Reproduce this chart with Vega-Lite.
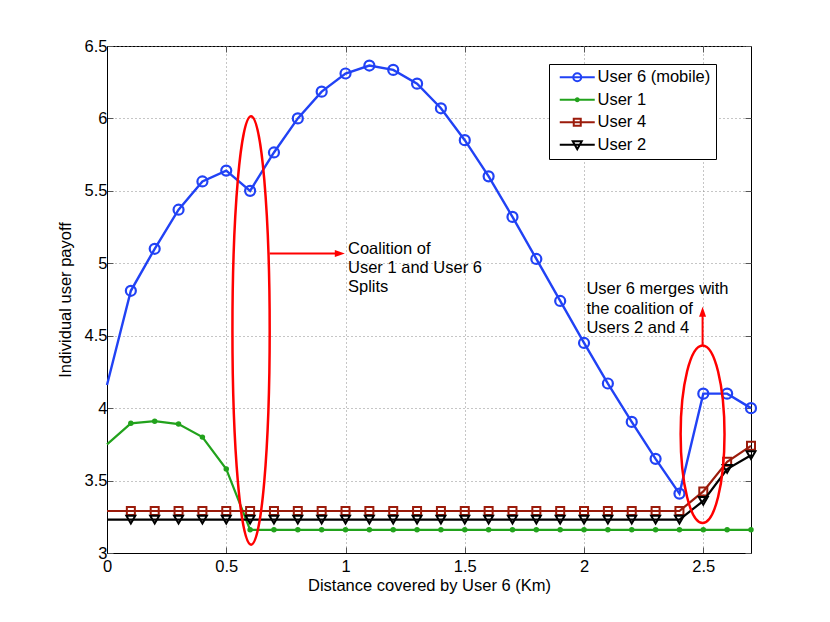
{
  "$schema": "https://vega.github.io/schema/vega-lite/v6.json",
  "width": 644,
  "height": 507,
  "autosize": "none",
  "padding": {"left": 107, "top": 46, "right": 79, "bottom": 69},
  "background": "white",
  "config": {
    "font": "Liberation Sans",
    "view": {"stroke": "black", "strokeWidth": 1}
  },
  "datasets": {
    "payoff": [
      {"x": 0.0, "series": "User 6 (mobile)", "y": 4.16},
      {"x": 0.1, "series": "User 6 (mobile)", "y": 4.81},
      {"x": 0.2, "series": "User 6 (mobile)", "y": 5.10},
      {"x": 0.3, "series": "User 6 (mobile)", "y": 5.37},
      {"x": 0.4, "series": "User 6 (mobile)", "y": 5.565},
      {"x": 0.5, "series": "User 6 (mobile)", "y": 5.64},
      {"x": 0.6, "series": "User 6 (mobile)", "y": 5.50},
      {"x": 0.7, "series": "User 6 (mobile)", "y": 5.765},
      {"x": 0.8, "series": "User 6 (mobile)", "y": 6.00},
      {"x": 0.9, "series": "User 6 (mobile)", "y": 6.185},
      {"x": 1.0, "series": "User 6 (mobile)", "y": 6.31},
      {"x": 1.1, "series": "User 6 (mobile)", "y": 6.365},
      {"x": 1.2, "series": "User 6 (mobile)", "y": 6.335},
      {"x": 1.3, "series": "User 6 (mobile)", "y": 6.24},
      {"x": 1.4, "series": "User 6 (mobile)", "y": 6.07},
      {"x": 1.5, "series": "User 6 (mobile)", "y": 5.85},
      {"x": 1.6, "series": "User 6 (mobile)", "y": 5.60},
      {"x": 1.7, "series": "User 6 (mobile)", "y": 5.32},
      {"x": 1.8, "series": "User 6 (mobile)", "y": 5.03},
      {"x": 1.9, "series": "User 6 (mobile)", "y": 4.74},
      {"x": 2.0, "series": "User 6 (mobile)", "y": 4.45},
      {"x": 2.1, "series": "User 6 (mobile)", "y": 4.17},
      {"x": 2.2, "series": "User 6 (mobile)", "y": 3.905},
      {"x": 2.3, "series": "User 6 (mobile)", "y": 3.65},
      {"x": 2.4, "series": "User 6 (mobile)", "y": 3.41},
      {"x": 2.5, "series": "User 6 (mobile)", "y": 4.10},
      {"x": 2.6, "series": "User 6 (mobile)", "y": 4.10},
      {"x": 2.7, "series": "User 6 (mobile)", "y": 4.00},
      {"x": 0.0, "series": "User 1", "y": 3.75},
      {"x": 0.1, "series": "User 1", "y": 3.895},
      {"x": 0.2, "series": "User 1", "y": 3.91},
      {"x": 0.3, "series": "User 1", "y": 3.89},
      {"x": 0.4, "series": "User 1", "y": 3.80},
      {"x": 0.5, "series": "User 1", "y": 3.58},
      {"x": 0.6, "series": "User 1", "y": 3.16},
      {"x": 0.7, "series": "User 1", "y": 3.16},
      {"x": 0.8, "series": "User 1", "y": 3.16},
      {"x": 0.9, "series": "User 1", "y": 3.16},
      {"x": 1.0, "series": "User 1", "y": 3.16},
      {"x": 1.1, "series": "User 1", "y": 3.16},
      {"x": 1.2, "series": "User 1", "y": 3.16},
      {"x": 1.3, "series": "User 1", "y": 3.16},
      {"x": 1.4, "series": "User 1", "y": 3.16},
      {"x": 1.5, "series": "User 1", "y": 3.16},
      {"x": 1.6, "series": "User 1", "y": 3.16},
      {"x": 1.7, "series": "User 1", "y": 3.16},
      {"x": 1.8, "series": "User 1", "y": 3.16},
      {"x": 1.9, "series": "User 1", "y": 3.16},
      {"x": 2.0, "series": "User 1", "y": 3.16},
      {"x": 2.1, "series": "User 1", "y": 3.16},
      {"x": 2.2, "series": "User 1", "y": 3.16},
      {"x": 2.3, "series": "User 1", "y": 3.16},
      {"x": 2.4, "series": "User 1", "y": 3.16},
      {"x": 2.5, "series": "User 1", "y": 3.16},
      {"x": 2.6, "series": "User 1", "y": 3.16},
      {"x": 2.7, "series": "User 1", "y": 3.16},
      {"x": 0.0, "series": "User 4", "y": 3.29},
      {"x": 0.1, "series": "User 4", "y": 3.29},
      {"x": 0.2, "series": "User 4", "y": 3.29},
      {"x": 0.3, "series": "User 4", "y": 3.29},
      {"x": 0.4, "series": "User 4", "y": 3.29},
      {"x": 0.5, "series": "User 4", "y": 3.29},
      {"x": 0.6, "series": "User 4", "y": 3.29},
      {"x": 0.7, "series": "User 4", "y": 3.29},
      {"x": 0.8, "series": "User 4", "y": 3.29},
      {"x": 0.9, "series": "User 4", "y": 3.29},
      {"x": 1.0, "series": "User 4", "y": 3.29},
      {"x": 1.1, "series": "User 4", "y": 3.29},
      {"x": 1.2, "series": "User 4", "y": 3.29},
      {"x": 1.3, "series": "User 4", "y": 3.29},
      {"x": 1.4, "series": "User 4", "y": 3.29},
      {"x": 1.5, "series": "User 4", "y": 3.29},
      {"x": 1.6, "series": "User 4", "y": 3.29},
      {"x": 1.7, "series": "User 4", "y": 3.29},
      {"x": 1.8, "series": "User 4", "y": 3.29},
      {"x": 1.9, "series": "User 4", "y": 3.29},
      {"x": 2.0, "series": "User 4", "y": 3.29},
      {"x": 2.1, "series": "User 4", "y": 3.29},
      {"x": 2.2, "series": "User 4", "y": 3.29},
      {"x": 2.3, "series": "User 4", "y": 3.29},
      {"x": 2.4, "series": "User 4", "y": 3.29},
      {"x": 2.5, "series": "User 4", "y": 3.425},
      {"x": 2.6, "series": "User 4", "y": 3.63},
      {"x": 2.7, "series": "User 4", "y": 3.74},
      {"x": 0.0, "series": "User 2", "y": 3.23},
      {"x": 0.1, "series": "User 2", "y": 3.23},
      {"x": 0.2, "series": "User 2", "y": 3.23},
      {"x": 0.3, "series": "User 2", "y": 3.23},
      {"x": 0.4, "series": "User 2", "y": 3.23},
      {"x": 0.5, "series": "User 2", "y": 3.23},
      {"x": 0.6, "series": "User 2", "y": 3.23},
      {"x": 0.7, "series": "User 2", "y": 3.23},
      {"x": 0.8, "series": "User 2", "y": 3.23},
      {"x": 0.9, "series": "User 2", "y": 3.23},
      {"x": 1.0, "series": "User 2", "y": 3.23},
      {"x": 1.1, "series": "User 2", "y": 3.23},
      {"x": 1.2, "series": "User 2", "y": 3.23},
      {"x": 1.3, "series": "User 2", "y": 3.23},
      {"x": 1.4, "series": "User 2", "y": 3.23},
      {"x": 1.5, "series": "User 2", "y": 3.23},
      {"x": 1.6, "series": "User 2", "y": 3.23},
      {"x": 1.7, "series": "User 2", "y": 3.23},
      {"x": 1.8, "series": "User 2", "y": 3.23},
      {"x": 1.9, "series": "User 2", "y": 3.23},
      {"x": 2.0, "series": "User 2", "y": 3.23},
      {"x": 2.1, "series": "User 2", "y": 3.23},
      {"x": 2.2, "series": "User 2", "y": 3.23},
      {"x": 2.3, "series": "User 2", "y": 3.23},
      {"x": 2.4, "series": "User 2", "y": 3.23},
      {"x": 2.5, "series": "User 2", "y": 3.36},
      {"x": 2.6, "series": "User 2", "y": 3.58},
      {"x": 2.7, "series": "User 2", "y": 3.675}
    ]
  },
  "layer": [
    {
      "data": {"name": "payoff"},
      "transform": [{"filter": "datum.series == 'User 6 (mobile)'"}],
      "mark": {"type": "line", "strokeWidth": 2.4, "color": "#2142f5"},
      "encoding": {
        "x": {
          "field": "x", "type": "quantitative",
          "scale": {"domain": [0, 2.7], "nice": false, "zero": false},
          "axis": {
            "orient": "bottom", "values": [0, 0.5, 1, 1.5, 2, 2.5], "format": "~g",
            "title": "Distance covered by User 6 (Km)",
            "grid": true, "gridColor": "#8c8c8c", "gridDash": [1, 3],
            "tickSize": -6, "tickColor": "#555555", "domainColor": "black",
            "labelFlush": false, "labelFontSize": 16.5, "labelColor": "black", "labelPadding": 11,
            "titleFontSize": 16.5, "titleFontWeight": "normal", "titleColor": "black", "titlePadding": 3
          }
        },
        "y": {
          "field": "y", "type": "quantitative",
          "scale": {"domain": [3, 6.5], "nice": false, "zero": false},
          "axis": {
            "orient": "left", "values": [3, 3.5, 4, 4.5, 5, 5.5, 6, 6.5], "format": "~g",
            "title": "Individual user payoff",
            "grid": true, "gridColor": "#8c8c8c", "gridDash": [1, 3],
            "tickSize": -6, "tickColor": "#555555", "domainColor": "black",
            "labelFontSize": 16.5, "labelColor": "black", "labelPadding": 6,
            "titleFontSize": 16.5, "titleFontWeight": "normal", "titleColor": "black", "titlePadding": 11
          }
        }
      }
    },
    {
      "data": {"name": "payoff"},
      "transform": [{"filter": "datum.series == 'User 6 (mobile)' && datum.x > 0"}],
      "mark": {"type": "point", "shape": "circle", "size": 100, "filled": false, "strokeWidth": 2.2, "color": "#2142f5", "opacity": 1},
      "encoding": {
        "x": {
          "field": "x", "type": "quantitative",
          "axis": {"orient": "top", "values": [0, 0.5, 1, 1.5, 2, 2.5], "labels": false, "title": null, "grid": false, "domain": false, "tickSize": -6, "tickColor": "#555555"}
        },
        "y": {
          "field": "y", "type": "quantitative",
          "axis": {"orient": "right", "values": [3, 3.5, 4, 4.5, 5, 5.5, 6, 6.5], "labels": false, "title": null, "grid": false, "domain": false, "tickSize": -6, "tickColor": "#555555"}
        }
      }
    },
    {
      "data": {"name": "payoff"},
      "transform": [{"filter": "datum.series == 'User 1'"}],
      "mark": {"type": "line", "strokeWidth": 2.2, "color": "#22a21c"},
      "encoding": {
        "x": {"field": "x", "type": "quantitative", "axis": null},
        "y": {"field": "y", "type": "quantitative", "axis": null}
      }
    },
    {
      "data": {"name": "payoff"},
      "transform": [{"filter": "datum.series == 'User 1' && datum.x > 0"}],
      "mark": {"type": "point", "shape": "circle", "size": 30, "filled": true, "color": "#22a21c", "opacity": 1},
      "encoding": {
        "x": {"field": "x", "type": "quantitative", "axis": null},
        "y": {"field": "y", "type": "quantitative", "axis": null}
      }
    },
    {
      "data": {"name": "payoff"},
      "transform": [{"filter": "datum.series == 'User 4'"}],
      "mark": {"type": "line", "strokeWidth": 2.2, "color": "#9b1b0b"},
      "encoding": {
        "x": {"field": "x", "type": "quantitative", "axis": null},
        "y": {"field": "y", "type": "quantitative", "axis": null}
      }
    },
    {
      "data": {"name": "payoff"},
      "transform": [{"filter": "datum.series == 'User 4' && datum.x > 0"}],
      "mark": {"type": "point", "shape": "square", "size": 64, "filled": false, "strokeWidth": 2, "color": "#9b1b0b", "opacity": 1},
      "encoding": {
        "x": {"field": "x", "type": "quantitative", "axis": null},
        "y": {"field": "y", "type": "quantitative", "axis": null}
      }
    },
    {
      "data": {"name": "payoff"},
      "transform": [{"filter": "datum.series == 'User 2'"}],
      "mark": {"type": "line", "strokeWidth": 2.2, "color": "#000000"},
      "encoding": {
        "x": {"field": "x", "type": "quantitative", "axis": null},
        "y": {"field": "y", "type": "quantitative", "axis": null}
      }
    },
    {
      "data": {"name": "payoff"},
      "transform": [{"filter": "datum.series == 'User 2' && datum.x > 0"}],
      "mark": {"type": "point", "shape": "triangle-down", "size": 80, "filled": false, "strokeWidth": 2, "color": "#000000", "opacity": 1},
      "encoding": {
        "x": {"field": "x", "type": "quantitative", "axis": null},
        "y": {"field": "y", "type": "quantitative", "axis": null}
      }
    },
    {
      "data": {"values": [{"x": 0.604, "y": 4.536}]},
      "mark": {"type": "point", "shape": "M 0 -1 A 0.087 1 0 1 1 0 1 A 0.087 1 0 1 1 0 -1 Z", "size": 183400, "filled": false, "strokeWidth": 2.5, "color": "#ff0000", "opacity": 1},
      "encoding": {
        "x": {"field": "x", "type": "quantitative", "axis": null},
        "y": {"field": "y", "type": "quantitative", "axis": null}
      }
    },
    {
      "data": {"values": [{"x": 2.497, "y": 3.82}]},
      "mark": {"type": "point", "shape": "M 0 -1 A 0.247 1 0 1 1 0 1 A 0.247 1 0 1 1 0 -1 Z", "size": 31540, "filled": false, "strokeWidth": 2.5, "color": "#ff0000", "opacity": 1},
      "encoding": {
        "x": {"field": "x", "type": "quantitative", "axis": null},
        "y": {"field": "y", "type": "quantitative", "axis": null}
      }
    },
    {
      "data": {"values": [{"x": 0.682, "x2": 0.96, "y": 5.067}]},
      "mark": {"type": "rule", "strokeWidth": 2, "color": "#ff0000"},
      "encoding": {
        "x": {"field": "x", "type": "quantitative", "axis": null},
        "x2": {"field": "x2"},
        "y": {"field": "y", "type": "quantitative", "axis": null}
      }
    },
    {
      "data": {"values": [{"x": 0.997, "y": 5.067}]},
      "mark": {"type": "point", "shape": "M 0 0 L -1 -0.35 L -1 0.35 Z", "size": 400, "filled": true, "color": "#ff0000", "opacity": 1},
      "encoding": {
        "x": {"field": "x", "type": "quantitative", "axis": null},
        "y": {"field": "y", "type": "quantitative", "axis": null}
      }
    },
    {
      "data": {"values": [{"x": 2.497, "y": 4.43, "y2": 4.64}]},
      "mark": {"type": "rule", "strokeWidth": 2, "color": "#ff0000"},
      "encoding": {
        "x": {"field": "x", "type": "quantitative", "axis": null},
        "y": {"field": "y", "type": "quantitative", "axis": null},
        "y2": {"field": "y2"}
      }
    },
    {
      "data": {"values": [{"x": 2.497, "y": 4.70}]},
      "mark": {"type": "point", "shape": "M 0 0 L -0.35 1 L 0.35 1 Z", "size": 400, "filled": true, "color": "#ff0000", "opacity": 1},
      "encoding": {
        "x": {"field": "x", "type": "quantitative", "axis": null},
        "y": {"field": "y", "type": "quantitative", "axis": null}
      }
    },
    {
      "data": {"values": [
        {"x": 1.0105, "y": 5.10, "label": "Coalition of\nUser 1 and User 6\nSplits"},
        {"x": 2.01, "y": 4.82, "label": "User 6 merges with\nthe coalition of\nUsers 2 and 4"}
      ]},
      "mark": {"type": "text", "align": "left", "baseline": "middle", "lineBreak": "\n", "fontSize": 16.5, "lineHeight": 19.3, "font": "Liberation Sans", "color": "black"},
      "encoding": {
        "x": {"field": "x", "type": "quantitative", "axis": null},
        "y": {"field": "y", "type": "quantitative", "axis": null},
        "text": {"field": "label"}
      }
    },
    {
      "data": {"values": [
        {"series": "User 6 (mobile)"},
        {"series": "User 1"},
        {"series": "User 4"},
        {"series": "User 2"}
      ]},
      "mark": {"type": "point", "filled": false, "strokeWidth": 2, "opacity": 0},
      "encoding": {
        "color": {
          "field": "series", "type": "nominal",
          "scale": {
            "domain": ["User 6 (mobile)", "User 1", "User 4", "User 2"],
            "range": ["#2142f5", "#22a21c", "#9b1b0b", "#000000"]
          },
          "legend": {
            "title": null, "orient": "none", "legendX": 442, "legendY": 18,
            "strokeColor": "black", "fillColor": "white", "padding": 5, "rowPadding": 5.5,
            "labelFontSize": 16.5, "labelFont": "Liberation Sans", "labelColor": "black",
            "symbolSize": 100, "symbolStrokeWidth": 2, "symbolOffset": 15, "labelOffset": 12, "symbolOpacity": 1
          }
        },
        "shape": {
          "field": "series", "type": "nominal",
          "scale": {
            "domain": ["User 6 (mobile)", "User 1", "User 4", "User 2"],
            "range": [
              "M -3.5 0 L 3.5 0 M -0.8 0 A 0.8 0.8 0 1 1 0.8 0 A 0.8 0.8 0 1 1 -0.8 0",
              "M -3.5 0 L 3.5 0 M -0.3 0 A 0.3 0.3 0 1 1 0.3 0 A 0.3 0.3 0 1 1 -0.3 0",
              "M -3.5 0 L 3.5 0 M -0.7 -0.7 L 0.7 -0.7 L 0.7 0.7 L -0.7 0.7 Z",
              "M -3.5 0 L 3.5 0 M -0.9 -0.7 L 0.9 -0.7 L 0 0.9 Z"
            ]
          }
        }
      }
    }
  ],
  "resolve": {"axis": {"x": "independent", "y": "independent"}}
}
